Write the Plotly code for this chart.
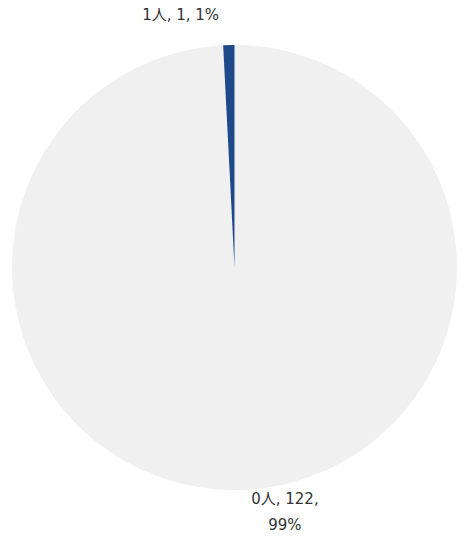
import plotly.graph_objects as go

# slice data (big slice first so the small one lands left of 12 o'clock)
labels = ["0人", "1人"]
counts = [122, 1]
colors = ["#f0f0f0", "#1e4a8a"]

SPAN = "<span style='font-size:15px'>{}</span>"
NBSP = "\u00a0"

templates = [
    SPAN.format("%{label}, %{value},") + "<br>" + SPAN.format("%{percent:.0%}"),
    # blank tail line lifts the small slice's label off the rim
    SPAN.format("%{label}, %{value}, %{percent:.0%}") + "<br>" + SPAN.format(NBSP),
]

fig = go.Figure()
fig.add_trace(go.Pie(
    labels=labels,
    values=counts,
    sort=False,
    direction="clockwise",
    rotation=0,
    marker=dict(colors=colors, line=dict(width=0)),
    texttemplate=templates,
    textposition="outside",
    # text size here only drives line spacing, glyph size comes from the spans
    outsidetextfont=dict(family="DejaVu Sans, Noto Sans CJK JP", size=[20, 16], color="#333333"),
    hoverinfo="label+value+percent",
))

fig.update_layout(
    width=462,
    height=540,
    margin=dict(l=12, r=0, t=43, b=47),
    showlegend=False,
    paper_bgcolor="white",
    plot_bgcolor="white",
)

fig.write_html(
    "out.html",
    config={"displayModeBar": False},
    post_script=(
        "document.body.style.margin='0';"
        "document.body.style.overflow='hidden';"
        "document.querySelectorAll('.svg-container').forEach(function(e){e.style.overflow='hidden';});"
    ),
)
